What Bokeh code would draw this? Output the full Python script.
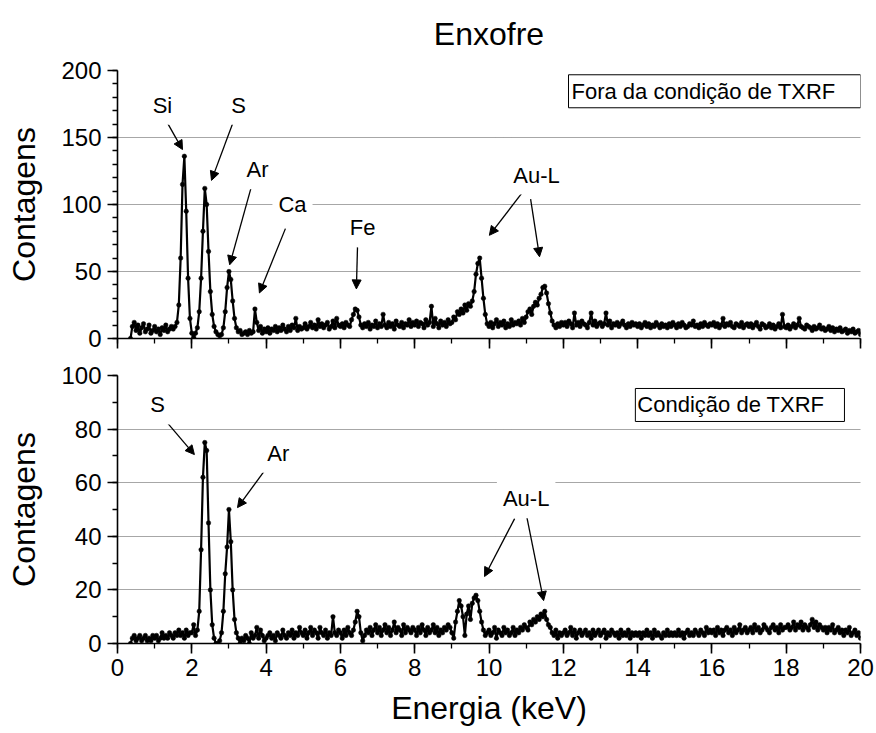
import numpy as np
from bokeh.plotting import figure
from bokeh.layouts import column
from bokeh.models import (Range1d, SingleIntervalTicker, FixedTicker, Label,
                          Arrow, NormalHead)
from bokeh.embed import file_html
from bokeh.resources import INLINE

# Channel calibration of the spectra (keV)
E_START = 0.35
E_STEP = 0.05

# Counts per channel, outside total-reflection condition (0.35 ... 20.00 keV)
counts_fora = [
    0, 9, 12, 6, 10, 4, 8, 11, 5, 7, 10, 4, 6,
    9, 5, 7, 3, 8, 6, 10, 5, 7, 9,
    7, 9, 12, 25, 60, 115, 136, 95, 45, 15,
    4, 1, 4, 8, 20, 45, 80, 112, 100, 65, 35, 18, 9, 5, 3, 2, 3, 8, 20, 38,
    50, 44, 28, 15, 8, 5, 6, 3, 4, 5, 3, 6, 4, 5, 22, 12, 6, 9, 4, 7,
    5, 8, 4, 7, 6, 9, 5, 8, 6, 10, 7, 5, 9, 6, 10, 8, 15, 6, 9, 7,
    8, 11, 7, 9, 12, 8, 10, 7, 14, 9, 11, 8, 10, 12, 7, 9, 13, 8, 15, 10,
    9, 11, 8, 12, 10, 9, 14, 18, 22, 21, 16, 10, 8, 11, 9, 12, 7, 10, 9, 13,
    8, 11, 9, 18, 10, 8, 12, 9, 11, 7, 13, 10, 9, 12, 8, 11, 10, 14, 9, 12,
    10, 13, 9, 12, 11, 8, 14, 10, 12, 24, 9, 15, 11, 8, 13, 10, 12, 9, 14, 11,
    12, 16, 14, 20, 18, 22, 19, 25, 21, 26, 24, 28, 35, 48, 56, 60, 45, 30, 18, 11,
    9, 12, 8, 11, 14, 9, 12, 10, 13, 8, 11, 9, 14, 10, 12, 11, 13, 10, 15, 12,
    16, 20, 22, 18, 24, 27, 25, 30, 33, 38, 39, 34, 26, 19, 13, 10, 8, 11, 9, 12,
    10, 12, 9, 13, 11, 8, 19, 10, 12, 9, 13, 11, 10, 8, 12, 19, 10, 13, 9, 11,
    12, 9, 11, 19, 10, 13, 8, 11, 10, 12, 9, 11, 13, 10, 8, 11, 9, 12, 10, 11,
    9, 11, 8, 10, 12, 9, 11, 8, 10, 9, 12, 10, 8, 11, 9, 10, 8, 11, 9, 12,
    10, 8, 11, 9, 12, 10, 8, 9, 11, 10, 13, 9, 10, 8, 11, 9, 12, 10, 9, 11,
    10, 12, 9, 11, 8, 10, 15, 9, 11, 10, 12, 9, 8, 11, 10, 9, 12, 8, 10, 11,
    9, 11, 8, 10, 12, 9, 7, 11, 10, 8, 9, 11, 8, 10, 7, 9, 11, 8, 18, 9,
    8, 10, 7, 9, 11, 8, 10, 15, 9, 8, 7, 10, 9, 8, 6, 9, 7, 8, 10, 7,
    8, 6, 7, 9, 6, 8, 5, 7, 6, 8, 5, 6, 7, 4, 6, 5, 7, 4, 5, 6,
    3,
]

# Counts per channel, total-reflection condition (0.35 ... 20.00 keV)
counts_txrf = [
    0, 2, 3, 1, 2, 3, 1, 2, 3, 1, 2, 1, 3,
    2, 3, 1, 2, 4, 2, 3, 2, 4, 3,
    2, 4, 3, 5, 3, 4, 2, 5, 3, 4,
    4, 7, 3, 5, 12, 35, 62, 75, 72, 45, 20, 7, 2, 0, 0, 1, 4, 12, 26, 36,
    50, 38, 20, 9, 4, 2, 0, 2, 1, 3, 2, 0, 4, 2, 3, 6, 2, 5, 3, 1,
    2, 3, 4, 2, 3, 1, 4, 3, 2, 5, 3, 2, 4, 3, 5, 2, 4, 3, 6, 4,
    3, 5, 2, 4, 6, 3, 5, 4, 2, 6, 4, 3, 5, 2, 4, 3, 10, 4, 3, 5,
    4, 2, 5, 3, 6, 4, 3, 5, 8, 12, 10, 4, 1, 3, 5, 4, 6, 3, 5, 7,
    4, 6, 3, 5, 7, 4, 6, 3, 5, 8, 4, 6, 5, 3, 7, 4, 6, 5, 4, 6,
    5, 3, 6, 4, 7, 5, 3, 6, 4, 5, 7, 4, 6, 3, 5, 4, 6, 5, 7, 6,
    4, 2, 8, 12, 16, 14, 10, 3, 11, 14, 9, 15, 17, 18, 16, 12, 8, 5, 3, 4,
    5, 3, 4, 6, 2, 5, 4, 3, 6, 4, 5, 3, 4, 6, 3, 5, 4, 6, 5, 7,
    6, 5, 8, 7, 9, 8, 10, 9, 11, 10, 12, 9, 7, 6, 4, 3, 5, 2, 4, 3,
    4, 5, 3, 4, 6, 3, 5, 2, 4, 5, 3, 4, 5, 3, 4, 2, 5, 3, 4, 5,
    3, 4, 5, 2, 4, 3, 5, 4, 3, 4, 2, 5, 3, 4, 3, 5, 2, 4, 3, 4,
    3, 4, 2, 4, 3, 5, 3, 4, 2, 5, 3, 4, 3, 2, 4, 3, 5, 3, 4, 3,
    4, 3, 5, 3, 4, 2, 4, 5, 3, 4, 3, 5, 4, 3, 5, 4, 3, 6, 4, 5,
    4, 5, 3, 6, 4, 5, 3, 5, 6, 4, 5, 3, 6, 4, 5, 7, 4, 5, 6, 4,
    5, 6, 4, 7, 5, 6, 4, 5, 7, 6, 5, 4, 6, 7, 5, 6, 4, 7, 5, 6,
    6, 7, 5, 6, 8, 5, 7, 6, 8, 5, 7, 6, 5, 7, 9, 6, 8, 5, 7, 6,
    5, 6, 4, 6, 5, 7, 4, 5, 6, 4, 5, 3, 5, 4, 6, 3, 4, 5, 3, 4,
    2,
]

# Peak labels: (text, label x, label y, [(arrow x0, y0, x1, y1), ...])
peaks_fora = [
    ("Si", 1.21, 174, [(1.32, 162, 1.75, 141)]),
    ("S", 3.26, 174, [(3.12, 162, 2.53, 118)]),
    ("Ar", 3.77, 126, [(3.63, 116, 3.02, 55)]),
    ("Ca", 4.71, 100, [(4.52, 82, 3.82, 34)]),
    ("Fe", 6.60, 83, [(6.46, 68, 6.43, 37)]),
    ("Au-L", 11.28, 122, [(10.90, 109, 10.01, 77), (11.12, 104, 11.36, 61)]),
]
peaks_txrf = [
    ("S", 1.08, 89, [(1.24, 84, 2.07, 70.5)]),
    ("Ar", 4.33, 71, [(3.96, 64.5, 3.23, 50.7)]),
    ("Au-L", 11.0, 54, [(10.69, 46.6, 9.88, 25), (11.0, 48.5, 11.47, 16)]),
]

FONT = "Liberation Sans"


def energies(counts):
    return E_START + E_STEP * np.arange(len(counts))


def panel(counts, ymax, ystep, yminor, grid_ticks, height, top, bottom,
          show_xlabels, box_text, box_x, box_y, box_pad, peaks):
    p = figure(width=876, height=height, output_backend="svg",
               toolbar_location=None, x_range=Range1d(0, 20),
               y_range=Range1d(0, ymax), min_border_left=117,
               min_border_right=16, min_border_top=top,
               min_border_bottom=bottom)
    p.outline_line_color = None
    p.background_fill_color = "white"
    p.border_fill_color = "white"

    e = energies(counts)
    p.line(e, counts, line_color="black", line_width=2.2)
    p.scatter(e, counts, marker="circle", size=4.5, fill_color="black",
              line_color="black", line_width=0.5)

    # axes
    xa = p.xaxis[0]
    ya = p.yaxis[0]
    xa.ticker = SingleIntervalTicker(interval=2, num_minor_ticks=2)
    ya.ticker = SingleIntervalTicker(interval=ystep, num_minor_ticks=yminor)
    for ax in (xa, ya):
        ax.axis_line_color = "black"
        ax.axis_line_width = 1.6
        ax.major_tick_line_color = "black"
        ax.major_tick_line_width = 1.6
        ax.minor_tick_line_color = "black"
        ax.minor_tick_line_width = 1.3
        ax.major_tick_in = 0
        ax.major_tick_out = 10
        ax.minor_tick_in = 0
        ax.minor_tick_out = 5
        ax.major_label_text_font = FONT
        ax.major_label_text_font_size = "24px"
        ax.major_label_text_color = "black"
        ax.axis_label_text_font = FONT
        ax.axis_label_text_font_size = "32px"
        ax.axis_label_text_font_style = "normal"
        ax.axis_label_text_color = "black"
    ya.axis_label = "Contagens"
    ya.axis_label_standoff = 16
    ya.major_label_standoff = 6
    if show_xlabels:
        xa.axis_label = "Energia (keV)"
        xa.major_label_standoff = 5
        xa.axis_label_standoff = 11
    else:
        xa.major_label_overrides = {v: "" for v in range(0, 21, 2)}
        xa.major_label_standoff = 0

    p.xgrid.grid_line_color = None
    p.ygrid.ticker = FixedTicker(ticks=grid_ticks)
    p.ygrid.grid_line_color = "#222222"
    p.ygrid.grid_line_width = 0.8
    p.ygrid.grid_line_dash = "1 1"

    # peak labels and arrows
    for text, lx, ly, arrows in peaks:
        for x0, y0, x1, y1 in arrows:
            p.add_layout(Arrow(x_start=x0, y_start=y0, x_end=x1, y_end=y1,
                               line_color="black", line_width=1.3,
                               end=NormalHead(size=9, fill_color="black",
                                              line_color="black",
                                              line_width=1)))
        p.add_layout(Label(x=lx, y=ly, text=text, text_align="center",
                           text_baseline="middle", text_font=FONT,
                           text_font_size="22px", text_color="black",
                           background_fill_color="white",
                           padding=dict(left=6, right=6, top=7, bottom=7)))

    # condition box
    p.add_layout(Label(x=box_x, y=box_y, text=box_text, text_align="left",
                       text_baseline="middle", text_font=FONT,
                       text_font_size="22px", text_color="black",
                       background_fill_color="white",
                       border_line_color="black", border_line_width=1,
                       padding=box_pad))
    return p


# heading strip: a bare canvas sharing the energy span, holding the title
head = figure(width=876, height=55, output_backend="svg",
              toolbar_location=None, x_range=Range1d(0, 20),
              y_range=Range1d(0, 55), x_axis_type=None, y_axis_type=None,
              min_border=0)
head.outline_line_color = None
head.add_layout(Label(x=10, y=22, text="Enxofre", text_align="center",
                      text_baseline="middle", text_font=FONT,
                      text_font_size="32px", text_color="black"))

p1 = panel(counts_fora, 200, 50, 5, [50, 100, 150], 300, 15, 17, False,
           "Fora da condição de TXRF", 12.14, 184.5,
           dict(left=3, right=25, top=4, bottom=4), peaks_fora)

p2 = panel(counts_txrf, 100, 20, 2, [20, 40, 60, 80], 378, 20, 90, True,
           "Condição de TXRF", 13.94, 89,
           dict(left=2, right=20, top=4, bottom=4), peaks_txrf)

layout = column(head, p1, p2, spacing=0)
open("out.html", "w").write(file_html(layout, INLINE))
